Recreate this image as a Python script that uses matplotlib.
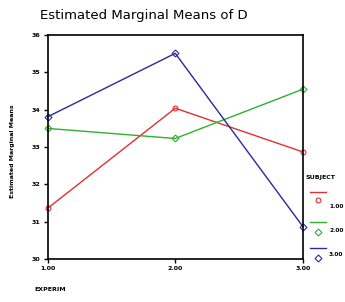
import numpy as np
import matplotlib
matplotlib.use("Agg")
import matplotlib.pyplot as plt
from matplotlib.lines import Line2D

# Estimated marginal means
experim = [1.0, 2.0, 3.0]
subjects = ["1.00", "2.00", "3.00"]
means_s1 = [31.36, 34.04, 32.87]
means_s2 = [33.50, 33.23, 34.55]
means_s3 = [33.81, 35.51, 30.87]
y_ticks = [30, 31, 32, 33, 34, 35, 36]
x_ticks = [1.0, 2.0, 3.0]

colors = ["#e03030", "#30b030", "#2a2a9a"]
markers = ["o", "D", "D"]

fig = plt.figure(figsize=(3.45, 3.02), dpi=100)
ax = fig.add_axes([0.138, 0.142, 0.74, 0.742])

series = [means_s1, means_s2, means_s3]
for vals, c, m in zip(series, colors, markers):
    ax.plot(experim, vals, color=c, linewidth=1.0, marker=m, markersize=3.5,
            markerfacecolor="none", markeredgecolor=c, markeredgewidth=0.8,
            clip_on=False)

ax.set_xlim(1, 3)
ax.set_ylim(30, 36)
ax.set_xticks(x_ticks)
ax.set_xticklabels(["%.2f" % t for t in x_ticks])
ax.set_yticks(y_ticks)
ax.set_yticklabels([str(t) for t in y_ticks])
ax.tick_params(labelsize=4.5, length=3, width=1, pad=2)
for lab in ax.get_xticklabels() + ax.get_yticklabels():
    lab.set_fontweight("bold")
for s in ax.spines.values():
    s.set_linewidth(1.2)

fig.text(0.115, 0.95, "Estimated Marginal Means of D", fontsize=9.5,
         ha="left", va="center")
fig.text(0.035, 0.5, "Estimated Marginal Means", fontsize=4.5, rotation=90,
         ha="center", va="center", fontweight="bold")
fig.text(0.10, 0.04, "EXPERIM", fontsize=4.5, ha="left", va="center",
         fontweight="bold")

# legend drawn in the SPSS style: line above marker
fig.text(306 / 345, 1 - 178 / 302, "SUBJECT", fontsize=4.5, ha="left",
         va="center", fontweight="bold")
line_y = [192, 222, 248]
mark_y = [200, 232, 258]
lab_y = [206, 230, 255]
for c, m, lab, ly, my, ty in zip(colors, markers, subjects, line_y, mark_y, lab_y):
    fig.add_artist(Line2D([310 / 345, 326 / 345], [1 - ly / 302, 1 - ly / 302],
                          color=c, linewidth=1.0))
    fig.add_artist(Line2D([318 / 345], [1 - my / 302], marker=m, markersize=3.5,
                          markerfacecolor="none", markeredgecolor=c,
                          markeredgewidth=0.8, linestyle="none"))
    fig.text(329 / 345, 1 - ty / 302, lab, fontsize=4.2, ha="left", va="center",
             fontweight="bold")

fig.savefig("out.png", dpi=100)
